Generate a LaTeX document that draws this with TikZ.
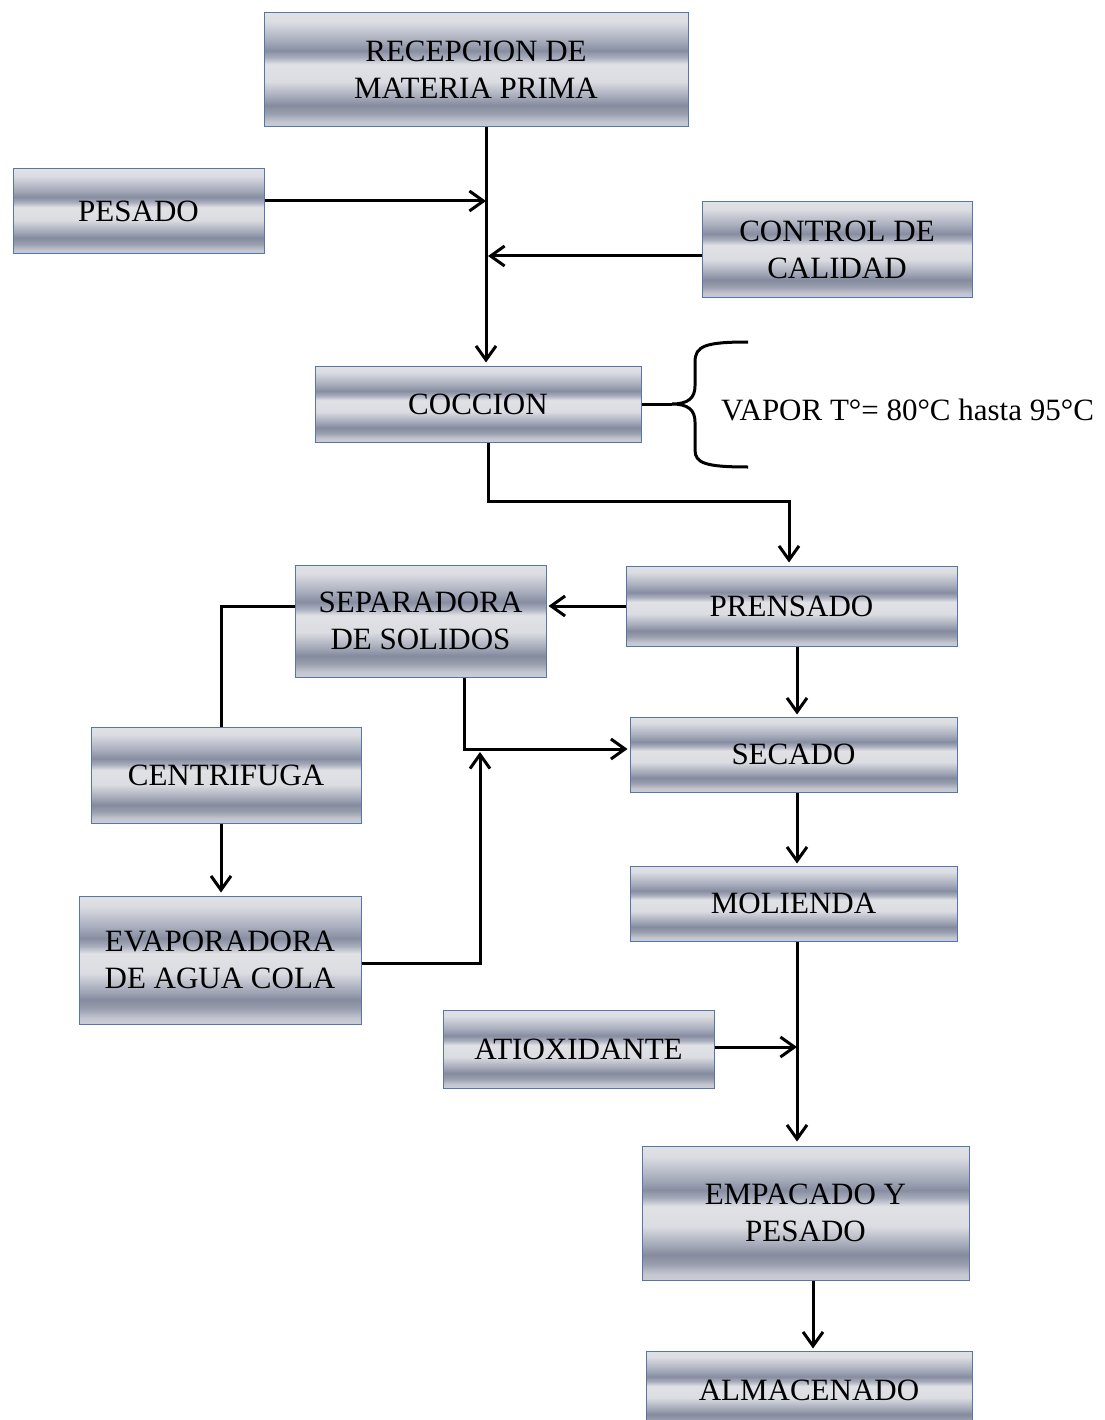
\documentclass[tikz,border=0pt]{standalone}
\usepackage{fontspec}
\setmainfont{Liberation Serif}
\usetikzlibrary{arrows.meta}
\pgfdeclareverticalshading{metal}{100bp}{%
  rgb(0bp)=(0.80,0.81,0.84);
  rgb(25bp)=(0.80,0.81,0.84);
  rgb(27.5bp)=(0.76,0.77,0.81);
  rgb(31bp)=(0.60,0.62,0.68);
  rgb(34.5bp)=(0.52,0.545,0.62);
  rgb(38bp)=(0.64,0.66,0.72);
  rgb(45bp)=(0.86,0.865,0.885);
  rgb(52.5bp)=(0.88,0.885,0.90);
  rgb(55.5bp)=(0.66,0.68,0.74);
  rgb(58.5bp)=(0.53,0.555,0.63);
  rgb(63bp)=(0.66,0.68,0.74);
  rgb(71bp)=(0.86,0.865,0.885);
  rgb(75bp)=(0.88,0.885,0.90);
  rgb(100bp)=(0.88,0.885,0.90)}
\definecolor{boxline}{HTML}{5577A8}
\tikzset{
  box/.style={draw=boxline, line width=1pt, shading=metal, align=center,
    inner sep=0pt, font=\fontsize{31}{37}\selectfont, text=black},
  conn/.style={line width=3pt, draw=black},
  arr/.style={conn, -{Straight Barb[length=14pt,width=20pt]}}
}
\begin{document}
\begin{tikzpicture}[x=1pt,y=-1pt]
\useasboundingbox (0,0) rectangle (1104,1420);
\fill[white] (0,0) rectangle (1104,1420);

\node[box, minimum width=424pt, minimum height=114pt] (rec) at (476,70) {RECEPCION DE\\MATERIA PRIMA};
\node[box, minimum width=251pt, minimum height=85pt] (pes) at (138.5,211.5) {PESADO};
\node[box, minimum width=270pt, minimum height=96pt] (ctrl) at (837,250) {CONTROL DE\\CALIDAD};
\node[box, minimum width=326pt, minimum height=76pt] (cocc) at (478,404) {COCCION};
\node[box, minimum width=331pt, minimum height=80pt] (pren) at (791.5,606) {PRENSADO};
\node[box, minimum width=251pt, minimum height=112pt] (sep) at (420.5,621) {SEPARADORA\\DE SOLIDOS};
\node[box, minimum width=270pt, minimum height=96pt] (cent) at (226,775) {CENTRIFUGA};
\node[box, minimum width=327pt, minimum height=75pt] (sec) at (793.5,754.5) {SECADO};
\node[box, minimum width=282pt, minimum height=128pt] (evap) at (220,960) {EVAPORADORA\\DE AGUA COLA};
\node[box, minimum width=327pt, minimum height=75pt] (mol) at (793.5,903.5) {MOLIENDA};
\node[box, minimum width=271pt, minimum height=78pt] (atio) at (578.5,1049) {ATIOXIDANTE};
\node[box, minimum width=327pt, minimum height=134pt] (emp) at (805.5,1213) {EMPACADO Y\\PESADO};
\node[box, minimum width=326pt, minimum height=78pt] (alm) at (809,1390) {ALMACENADO};

\node[anchor=west, inner sep=0pt, font=\fontsize{31}{37}\selectfont] (vap) at (721,410) {VAPOR T°= 80°C hasta 95°C};

% connectors
\coordinate (jp) at (486,201);
\coordinate (jc) at (488,256);
\coordinate (k) at (789,501);
\coordinate (m1) at (464,749);
\coordinate (m2) at (480,963);
\coordinate (m3) at (797,1047);
\coordinate (bt) at (672,404);

\draw[arr] ([xshift=10pt]rec.south) -- ([xshift=8pt,yshift=3pt]cocc.north);
\draw[arr] (pes.east |- jp) -- (jp);
\draw[arr] (ctrl.west |- jc) -- (jc);
\draw[arr] ([xshift=10pt]cocc.south) |- (k) -- ([yshift=3pt]k |- pren.north);
\draw[conn] (cocc.east) -- (bt);
\draw[conn] (748,342) .. controls (705,342) and (695,346) .. (695,362) -- (695,386)
  .. controls (695,398) and (688,404) .. (bt)
  .. controls (688,404) and (695,410) .. (695,422) -- (695,450)
  .. controls (695,463) and (705,467) .. (748,467);
\draw[arr] (pren.west) -- ([xshift=2pt]pren.west -| sep.east);
\draw[arr] ([xshift=5.5pt]pren.south) -- ([xshift=5.5pt,yshift=2pt]pren.south |- sec.north);
\draw[conn] (sep.west |- pren.west) -| ([xshift=-5pt]cent.north);
\draw[arr] (sep.south -| m1) -- (m1) -- ([xshift=-2pt]m1 -| sec.west);
\draw[arr] ([xshift=-5pt]cent.south) -- ([xshift=-5pt,yshift=3pt]cent.south |- evap.north);
\draw[arr, shorten >=3pt] (evap.east |- m2) -- (m2) -- (m2 |- m1);
\draw[arr] ([xshift=3.5pt]sec.south) -- ([xshift=3.5pt,yshift=2pt]sec.south |- mol.north);
\draw[arr] ([xshift=3.5pt]mol.south) -- ([xshift=3.5pt,yshift=4pt]mol.south |- emp.north);
\draw[arr] (atio.east |- m3) -- (m3);
\draw[arr] ([xshift=7.5pt]emp.south) -- ([xshift=7.5pt,yshift=2pt]emp.south |- alm.north);
\end{tikzpicture}
\end{document}
